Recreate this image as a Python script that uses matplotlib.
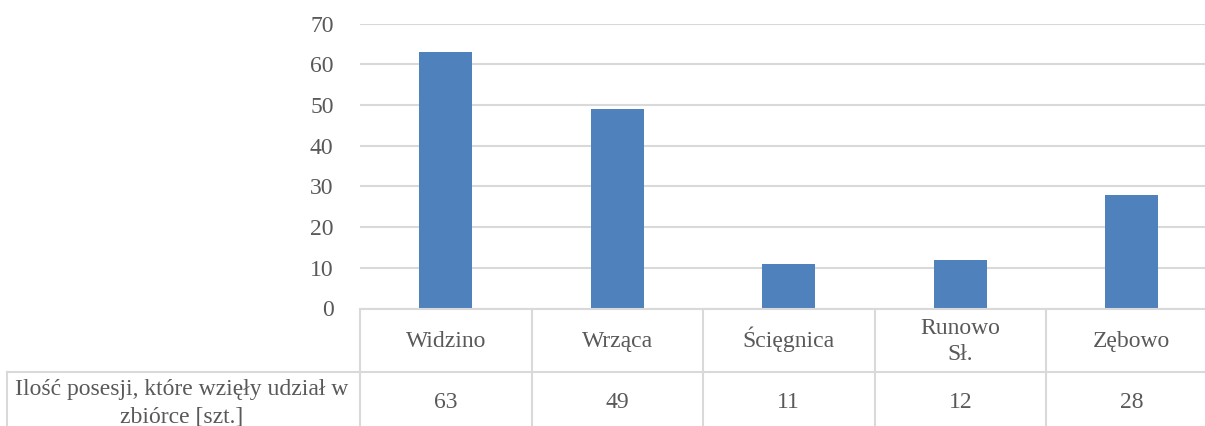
import matplotlib
matplotlib.use("Agg")
import matplotlib.pyplot as plt
from matplotlib.lines import Line2D

categories = ["Widzino", "Wrząca", "Ścięgnica", "Runowo\nSł.", "Zębowo"]
values = [63, 49, 11, 12, 28]
value_labels = ["63", "49", "11", "12", "28"]
row_label = "Ilość posesji, które wzięły udział w\nzbiórce [szt.]"
yticks = [0, 10, 20, 30, 40, 50, 60, 70]

W, H = 1205, 426
plt.rcParams['font.family'] = ['Liberation Serif', 'DejaVu Serif']
txt = '#595959'
grid = '#D9D9D9'
FS = 17
LS = 27  # line spacing in px
fig = plt.figure(figsize=(W / 100, H / 100), dpi=100)

def fx(px):
    return px / W

def fy(py):
    return 1 - py / H

def put(cx, base_center, label):
    parts = label.split('\n')
    n = len(parts)
    for i, p in enumerate(parts):
        b = base_center + (i - (n - 1) / 2) * LS
        fig.text(fx(cx), fy(b), p, ha='center', va='baseline', fontsize=FS, color=txt)

left, right, top, bottom = 360, 1217.5, 23.5, 308.5
ax = fig.add_axes([fx(left), fy(bottom), fx(right) - fx(left), fy(top) - fy(bottom)])
x = list(range(len(categories)))
ax.bar(x, values, width=0.31, color='#4F81BD', zorder=3)
ax.set_xlim(-0.5, len(categories) - 0.5)
ax.set_ylim(0, 70)
ax.set_yticks(yticks)
ax.set_yticklabels([str(t) for t in yticks], fontsize=FS, color=txt)
ax.set_xticks([])
ax.tick_params(axis='y', length=0, pad=19)
ax.yaxis.grid(True, color=grid, linewidth=1.5, zorder=0)
for s in ax.spines.values():
    s.set_visible(False)

# table lines (pixel coords)
col_w = (right - left) / len(categories)
bounds = [left + i * col_w for i in range(len(categories) + 1)]
ROW = 372
lines = [
    ((left, W), (309, 309)),
    ((7, W), (ROW, ROW)),
    ((7, 7), (ROW, H)),
]
for b in bounds[:-1]:
    lines.append(((b, b), (309, H)))
for (xs, ys) in lines:
    fig.add_artist(Line2D([fx(xs[0]), fx(xs[1])], [fy(ys[0]), fy(ys[1])],
                          color=grid, linewidth=1.5))

for i, (c, v) in enumerate(zip(categories, value_labels)):
    cx = bounds[i] + col_w / 2
    put(cx, 347, c)
    put(cx, 408, v)

put(182, 409, row_label)

fig.savefig('out.png', dpi=100)
